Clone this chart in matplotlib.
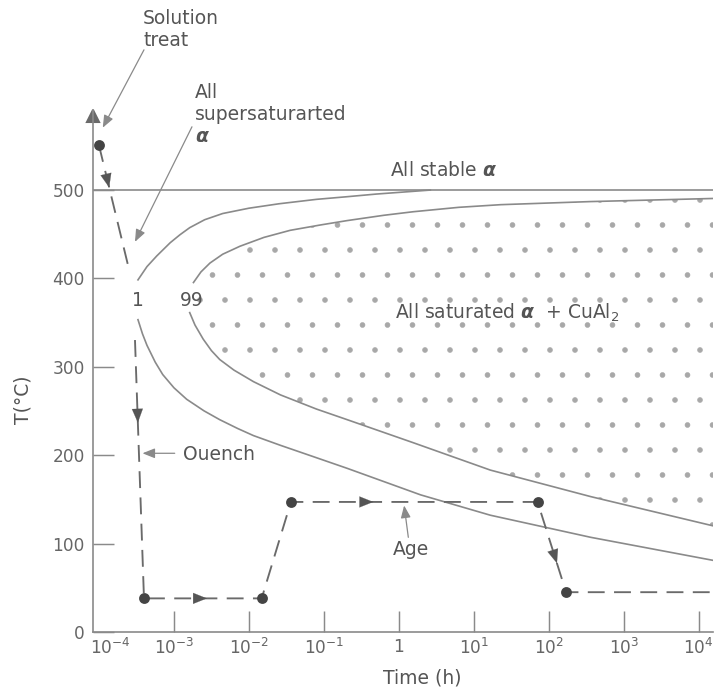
import numpy as np
import matplotlib.pyplot as plt
from matplotlib.ticker import NullLocator
from matplotlib.transforms import ScaledTranslation

plt.rcParams['font.family'] = ['DejaVu Sans']
plt.rcParams['mathtext.fontset'] = 'dejavusans'
plt.rcParams['hatch.color'] = '#a8a8a8'
plt.rcParams['hatch.linewidth'] = 0.25

# values: log10(time in h) and temperature in C
# 1 % precipitation curve (split at the "1" label on the nose)
start_up_logt = [-3.48, -3.36, -3.23, -3.05, -2.92, -2.79, -2.59, -2.35, -2.0,
                 -1.6, -1.1, -0.69, -0.3, 0.02, 0.42]
start_up_T = [398, 413, 425, 440, 449, 457, 466, 473, 479,
              484, 489, 492, 495, 497, 499.5]
start_lo_logt = [-3.48, -3.42, -3.36, -3.25, -3.15, -3.0, -2.83, -2.6, -2.39,
                 -2.15, -1.94, -1.58, -1.1, -0.69, 0.29, 1.22, 2.56, 4.19]
start_lo_T = [353, 337, 324, 305, 291, 276, 263, 250, 240,
              230, 222, 211, 197, 185, 155, 132, 107, 81]

# 99 % precipitation curve (split at the "99" label)
end_up_logt = [-2.74, -2.64, -2.52, -2.35, -2.12, -1.8, -1.45, -1.05, -0.69,
               -0.2, 0.19, 0.8, 1.36, 2.56, 4.19]
end_up_T = [395, 407, 417, 427, 436, 446, 454, 460, 465,
            471, 475, 480, 483, 486.5, 490]
end_lo_logt = [-2.79, -2.72, -2.61, -2.5, -2.39, -2.2, -1.94, -1.58, -1.1,
               -0.69, 0.19, 1.22, 2.56, 4.19]
end_lo_T = [361, 347, 331, 318, 308, 296, 283, 268, 252,
            240, 214, 183, 153, 120]

stable_T = 500

# heat treatment path: solution treat, quench, hold, age, cool
treat_logt = [-4.0, -3.6]
treat_T = [550, 410]
path_logt = [-3.52, -3.40, -1.83, -1.44, 1.85, 2.23, 4.19]
path_T = [330, 38, 38, 147, 147, 45, 45]
dot_logt = [-4.0, -3.40, -1.83, -1.44, 1.85, 2.23]
dot_T = [550, 38, 38, 147, 147, 45]
# (segment index, fraction along it) for the arrow heads on the path
path_heads = [(0, 0.32), (1, 0.535), (3, 0.334), (4, 0.68)]

tick_exp = [-4, -3, -2, -1, 0, 1, 2, 3, 4]
tick_labels = [r'$10^{%d}$' % e if e != 0 else '1' for e in tick_exp]
ytick_vals = [0, 100, 200, 300, 400, 500]

GREY = '#8a8a8a'
TXT = '#555555'

fig = plt.figure(figsize=(715 / 150, 692 / 150), dpi=150)
ax = fig.add_axes([93 / 715, 60 / 692, 620 / 715, 522 / 692])
ax.set_xscale('log')
xmin, xmax = 10 ** -4.08, 10 ** 4.19
ax.set_xlim(xmin, xmax)
ax.set_ylim(0, 590)


def tt(v):
    return 10 ** np.asarray(v, dtype=float)


# stippled region inside the 99 % curve
poly_t = np.concatenate([tt(end_up_logt)[::-1], tt(end_lo_logt)])
poly_T = np.concatenate([np.asarray(end_up_T)[::-1], end_lo_T])
ax.fill(poly_t, poly_T, facecolor='none', edgecolor='#a8a8a8', linewidth=0, hatch='.')

# curves
ax.axhline(stable_T, color=GREY, lw=0.8)
for lt, T in [(start_up_logt, start_up_T), (start_lo_logt, start_lo_T),
              (end_up_logt, end_up_T), (end_lo_logt, end_lo_T)]:
    ax.plot(tt(lt), T, color=GREY, lw=0.8, solid_joinstyle='round')

# heat treatment path
dash = dict(color='#6a6a6a', lw=0.9, dashes=(9, 5))
ax.plot(tt(treat_logt), treat_T, **dash)
ax.plot(tt(path_logt), path_T, **dash)
ax.plot(tt(dot_logt), dot_T, 'o', color='#444444', ms=4.2, zorder=5, clip_on=False)


def head(lt, T, i, f):
    x0, x1 = lt[i], lt[i + 1]
    y0, y1 = T[i], T[i + 1]
    tip = (10 ** (x0 + f * (x1 - x0)), y0 + f * (y1 - y0))
    g = f - 0.03
    tail = (10 ** (x0 + g * (x1 - x0)), y0 + g * (y1 - y0))
    ax.annotate('', xy=tip, xytext=tail,
                arrowprops=dict(arrowstyle='-|>,head_length=0.5,head_width=0.2',
                                mutation_scale=13, color='#555555', lw=0.1,
                                shrinkA=0, shrinkB=0))


head(treat_logt, treat_T, 0, 0.34)
for i, f in path_heads:
    head(path_logt, path_T, i, f)

# labels with thin pointer arrows
ptr = dict(arrowstyle='-|>,head_length=0.45,head_width=0.18', mutation_scale=11,
           color='#8a8a8a', lw=0.6, shrinkA=0, shrinkB=0)
fs = 9
ax.text(10 ** -3.41, 704, 'Solution\ntreat', ha='left', va='top', fontsize=fs,
        color=TXT, linespacing=1.2)
ax.annotate('', xy=(10 ** -3.95, 570), xytext=(10 ** -3.40, 658), arrowprops=ptr,
            annotation_clip=False)
ax.text(10 ** -2.72, 621, 'All\nsupersaturarted\n' + r'$\boldsymbol{\alpha}$',
        ha='left', va='top', fontsize=fs, color=TXT, linespacing=1.2)
ax.annotate('', xy=(10 ** -3.52, 441), xytext=(10 ** -2.76, 571), arrowprops=ptr,
            annotation_clip=False)
ax.text(10 ** -0.115, 515, r'All stable $\boldsymbol{\alpha}$', ha='left',
        va='baseline', fontsize=fs, color=TXT)
ax.text(10 ** -0.05, 354, r'All saturated $\boldsymbol{\alpha}$  + CuAl$_2$',
        ha='left', va='baseline', fontsize=fs, color=TXT)
ax.text(10 ** -3.48, 375, '1', ha='center', va='center', fontsize=fs, color=TXT)
ax.text(10 ** -2.76, 375, '99', ha='center', va='center', fontsize=fs, color=TXT)
ax.text(10 ** -2.88, 201, 'Ouench', ha='left', va='center', fontsize=fs, color=TXT)
ax.annotate('', xy=(10 ** -3.42, 202), xytext=(10 ** -2.99, 202), arrowprops=ptr)
ax.text(10 ** -0.075, 93, 'Age', ha='left', va='center', fontsize=fs, color=TXT)
ax.annotate('', xy=(10 ** 0.07, 143), xytext=(10 ** 0.126, 107), arrowprops=ptr)

# axes styling
for s in ['top', 'right']:
    ax.spines[s].set_visible(False)
for s in ['left', 'bottom']:
    ax.spines[s].set_color(GREY)
    ax.spines[s].set_linewidth(0.8)
ax.plot([xmin], [583], marker='^', ms=5.5, color='#6a6a6a', clip_on=False)

ax.set_xticks(tt(tick_exp))
ax.set_xticklabels(tick_labels)
ax.xaxis.set_minor_locator(NullLocator())
ax.xaxis.get_major_ticks()[0].tick1line.set_visible(False)
ax.set_yticks(ytick_vals)
ax.tick_params(direction='in', length=10, width=0.7, color=GREY,
               labelcolor='#666666', labelsize=8.2)
ax.tick_params(axis='x', pad=3)
ax.tick_params(axis='y', pad=4)
# first time label sits just right of the vertical axis, as in the original
first = ax.get_xticklabels()[0]
first.set_transform(first.get_transform() + ScaledTranslation(5.5 / 72, 0, fig.dpi_scale_trans))

ax.set_xlabel('Time (h)', fontsize=fs, color=TXT)
ax.xaxis.set_label_coords(0.531, -0.069)
ax.set_ylabel('T(°C)', fontsize=fs, color=TXT)
ax.yaxis.set_label_coords(-0.097, 0.444)

fig.savefig('out.png', dpi=150)
